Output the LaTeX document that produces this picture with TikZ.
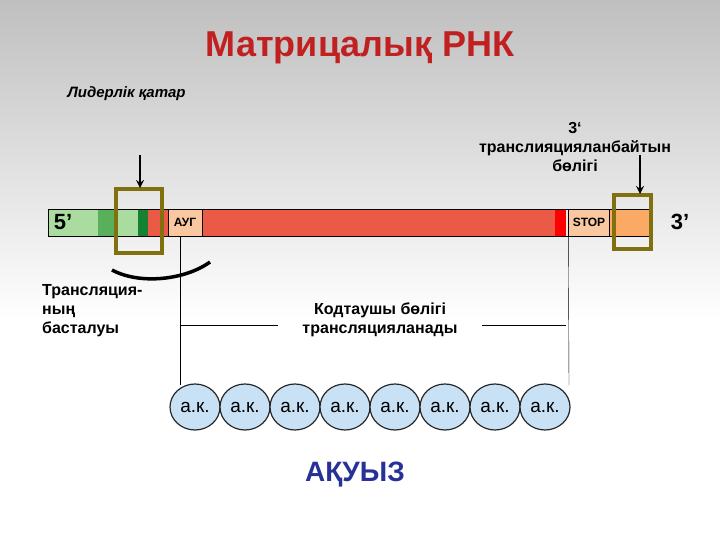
\documentclass[tikz,border=0pt]{standalone}
\usepackage{fontspec}
\setmainfont{Liberation Sans}
\usetikzlibrary{shapes.geometric}
\definecolor{oliv}{RGB}{128,112,16}
\definecolor{titc}{RGB}{192,32,32}
\definecolor{redm}{RGB}{235,90,70}
\definecolor{orng}{RGB}{250,170,100}
\definecolor{peach}{RGB}{250,200,160}
\definecolor{akc}{RGB}{200,225,245}
\definecolor{protc}{RGB}{40,50,150}
\definecolor{lgreen}{RGB}{170,220,160}
\definecolor{mgreen}{RGB}{90,175,90}
\definecolor{dgreen}{RGB}{20,130,50}
\begin{document}
\begin{tikzpicture}[x=1pt,y=-1pt,
  olive/.style={draw=oliv,line width=4pt},
  big/.style={font=\bfseries\fontsize{16}{19}\selectfont},
  ak/.style={ellipse,draw=black!85,fill=akc,line width=1.2pt,minimum width=50pt,minimum height=46pt,inner sep=0pt,font=\fontsize{19}{22}\selectfont}]
\useasboundingbox (0,0) rectangle (720,540);
\shade[top color=black!25,bottom color=white] (0,0) rectangle (720,320);
\fill[white] (0,320) rectangle (720,540);
\node[font=\bfseries\fontsize{36}{40}\selectfont,text=titc] (title) at (360,48) {Матрицалық РНК};
\node[font=\bfseries\itshape\fontsize{15}{18}\selectfont,anchor=west] (lead) at (64,94) {Лидерлік қатар};
\node[big,align=center] (utr) at (575,147) {3‘\\ транслияцияланбайтын\\ бөлігі};
\fill[lgreen] (48,209) rectangle (98,236);
\fill[mgreen] (98,209) rectangle (118,236);
\fill[lgreen] (118,209) rectangle (138,236);
\fill[dgreen] (138,209) rectangle (148,236);
\fill[redm] (148,209) rectangle (555,236);
\fill[red] (555,209) rectangle (566,236);
\fill[orng] (610,209) rectangle (650,236);
\draw (48,209) rectangle (650,236);
\node[draw,fill=peach,minimum width=34pt,minimum height=27pt,inner sep=0pt,font=\bfseries\fontsize{12}{14}\selectfont] (aug) at (185,222.5) {АУГ};
\node[draw,fill=peach,minimum width=41pt,minimum height=27pt,inner sep=0pt,font=\bfseries\fontsize{12}{14}\selectfont] (stop) at (589,222.5) {STOP};
\node[font=\bfseries\fontsize{22}{26}\selectfont] (p5) at (63,222) {5'};
\node[font=\bfseries\fontsize{22}{26}\selectfont] (p3) at (680,222) {3'};
\node[olive,minimum width=46pt,minimum height=64pt] (box1) at (139,221) {};
\node[olive,minimum width=37pt,minimum height=53pt] (box2) at (632,222) {};
\coordinate (a1) at (140,155); \coordinate (a2) at (640,155);
\draw[-stealth,line width=2.5pt] (a1) -- (140,188);
\draw[-stealth,line width=2.5pt] (a2) -- (640,194);
\draw[line width=3.5pt] (112,270) .. controls (140,285) and (185,280) .. (210,262);
\node[big,align=left,anchor=north west,inner sep=0pt] (start) at (42,284) {Трансляция-\\ның\\ басталуы};
\node[big,align=center] (cod) at (380,320) {Кодтаушы бөлігі\\ трансляцияланады};
\coordinate (l1) at (180,385); \coordinate (l2) at (569,385);
\coordinate (t1) at (180,236);
\draw (t1) -- (l1);
\draw (stop.south west) -- (l2);
\draw (180,325) -- (278,325); \draw (482,325) -- (566,325);
\foreach \i in {0,...,7}{
  \node[ak] (c\i) at (195+50*\i,407) {а.к.};
}
\node[font=\bfseries\fontsize{28}{32}\selectfont,text=protc] (prot) at (355,475) {АҚУЫЗ};
\end{tikzpicture}
\end{document}
